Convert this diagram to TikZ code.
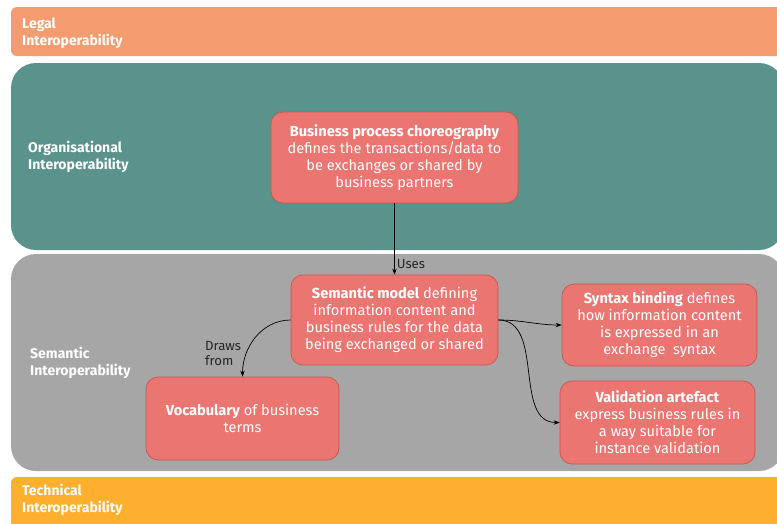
\documentclass[tikz,border=0pt]{standalone}
\usepackage{fontspec}
\setmainfont{Fira Sans}
\usetikzlibrary{arrows.meta}

\definecolor{legalc}{RGB}{245,155,112}
\definecolor{orgc}{RGB}{90,147,140}
\definecolor{semc}{RGB}{166,166,166}
\definecolor{techc}{RGB}{255,175,46}
\definecolor{boxfill}{RGB}{235,117,112}
\definecolor{boxline}{RGB}{196,88,82}

\tikzset{
  layerlabel/.style={anchor=west, align=left, text=white, inner sep=0pt,
    font=\bfseries\fontsize{14}{16.5}\selectfont},
  partbox/.style={draw=boxline, fill=boxfill, rounded corners=12pt, text=white,
    align=center, inner sep=0pt, line width=0.7pt,
    font=\fontsize{14.6}{17}\selectfont},
  arr/.style={-{Stealth[length=6pt,width=4.5pt]}, line width=0.7pt},
  arrlabel/.style={text=black!85, font=\fontsize{13.2}{15}\selectfont}
}

\begin{document}
\begin{tikzpicture}[x=1pt, y=-1pt]
  \useasboundingbox (0,0) rectangle (777,523);
  \clip (0,0) rectangle (777,523);

  % layers
  \fill[legalc, rounded corners=6pt] (11,7) rectangle (800,56);
  \fill[orgc, rounded corners=25pt] (11,63) rectangle (784,250);
  \fill[semc, rounded corners=25pt] (11,254) rectangle (784,471);
  \fill[techc, rounded corners=6pt] (11,477) rectangle (800,540);

  % layer names
  \node[layerlabel] (legal) at (22,33) {Legal\\Interoperability};
  \node[layerlabel] (org) at (28,157) {Organisational\\Interoperability};
  \node[layerlabel] (sem) at (30,363) {Semantic\\Interoperability};
  \node[layerlabel] (tech) at (22,500) {Technical\\Interoperability};

  % parts
  \node[partbox, minimum width=247, minimum height=91] (bpc) at (394.5,157.5)
    {\textbf{Business process choreography}\\defines the transactions/data to\\be exchanges or shared by\\business partners};
  \node[partbox, minimum width=207, minimum height=90] (sm) at (394.5,320)
    {\textbf{Semantic model} defining\\information content and\\business rules for the data\\being exchanged or shared};
  \node[partbox, minimum width=195, minimum height=82] (syn) at (659.5,325)
    {\textbf{Syntax binding} defines\\how information content\\is expressed in an\\exchange\ \ syntax};
  \node[partbox, minimum width=195, minimum height=83] (val) at (657.5,422.5)
    {\textbf{Validation artefact}\\express business rules in\\a way suitable for\\instance validation};
  \node[partbox, minimum width=193, minimum height=83] (voc) at (242.5,418.5)
    {\textbf{Vocabulary} of business\\terms};

  % links
  \draw[arr] (bpc.south) -- (sm.north) node[pos=0.85, right, arrlabel, inner sep=2pt] (uses) {Uses};
  \draw[arr] (sm.west) to[out=180, in=90] (voc.north);
  \node[arrlabel, anchor=north west, align=left, inner sep=0pt] (draws) at (205,341) {Draws\\from};
  \draw[arr] (sm.east) to[out=0, in=180] (syn.west);
  \draw[arr] (sm.east) to[out=0, in=180] (val.west);

\end{tikzpicture}
\end{document}
